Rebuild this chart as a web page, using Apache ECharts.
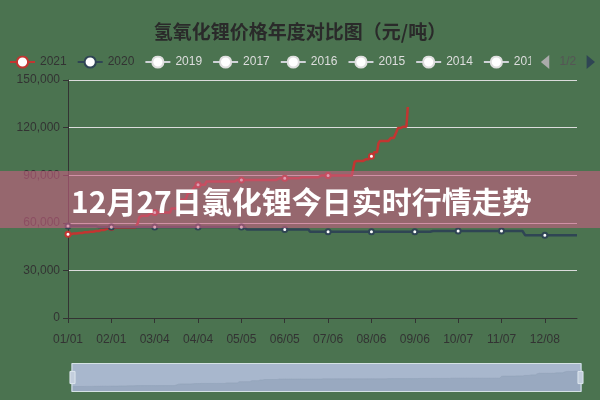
<!DOCTYPE html>
<html>
<head>
<meta charset="utf-8">
<script src="https://cdn.jsdelivr.net/npm/echarts@6/dist/echarts.min.js"></script>
<style>
html,body{margin:0;padding:0;background:#4b7350;}
#chart{width:600px;height:400px;}
</style>
</head>
<body>
<div id="chart"></div>
<script>
// ---- data ----
const chartTitle = '氢氧化锂价格年度对比图（元/吨）';
const bannerText = '12月27日氯化锂今日实时行情走势';
const legendYears = ['2021', '2020', '2019', '2017', '2016', '2015', '2014', '2013', '2012'];
const hiddenYears = ['2019', '2017', '2016', '2015', '2014', '2013', '2012'];
const monthLengths = [31, 28, 31, 30, 31, 30, 31, 31, 30, 31, 30, 31];
const yTicks = [0, 30000, 60000, 90000, 120000, 150000];

// daily prices 2021 (01/01 .. 09/01)
const values2021 = [
// Jan
52800,52800,52800,53200,53200,53200,53200,53600,53600,53600,
53600,54000,54000,54000,54000,54400,54400,54400,54400,54800,
54800,54800,54800,55500,55500,55500,55500,56200,56200,56200,
56200,
// Feb
57000,57000,57000,57000,57000,57000,57000,57000,57000,57000,
57000,57000,57000,57000,57000,57000,57000,57000,57000,60000,
63500,64500,64500,64500,64500,64500,64500,65500,
// Mar
66000,66000,66000,66500,66500,66500,66500,66500,66500,66500,
66500,66500,66500,66500,66500,69000,69000,69000,69000,69000,
69000,74500,74500,74500,74500,74500,74500,79000,79000,79000,
79000,
// Apr
82000,82000,84000,84000,84000,84000,84000,84000,84000,86000,
86000,86000,86000,86000,86000,86000,86000,86000,86000,86000,
86000,86000,86000,86000,86000,86000,86000,86000,86000,86000,
// May
87000,87000,87000,87000,87000,87000,87000,87000,87000,87000,
87000,87000,87000,87000,87000,87000,87000,87000,87000,87000,
87000,87000,87000,87000,87000,87000,87000,87000,87000,87000,
87000,
// Jun
88000,88000,88000,88000,88000,88000,88000,88000,88000,88000,
88000,88000,88000,88000,88000,88700,88700,88700,88700,88700,
88700,88700,88700,88700,88700,88700,88700,88700,88700,88700,
// Jul
89800,89800,89800,89800,89800,89800,89800,89800,89800,89800,
89800,89800,89800,89800,89800,89800,89800,89800,89800,89800,
89800,89800,89800,89800,98500,99000,99000,99000,99000,99000,
99000,
// Aug
100000,100000,100000,100000,102000,102000,102000,104500,104500,104500,
110000,111500,111500,111500,111500,111500,111500,111500,111500,113500,
113500,113500,113500,117500,119800,119800,119800,119800,120600,120600,
120600,
// Sep
133000
];

// daily prices 2020 (01/01 .. 12/31)
const values2020 = [
// Jan
58000,58000,58000,58000,58000,58000,58000,58000,58000,58000,
58000,58000,58000,58000,58000,58000,58000,58000,58000,58000,
58000,57300,57300,57300,57300,57300,57300,57300,57300,57300,
57300,
// Feb
57300,57300,57300,57300,57300,57300,57300,57300,57300,57300,
57300,57300,57300,57300,57300,57300,57300,57300,57300,57300,
57300,57300,57300,57300,57300,57300,57300,57300,
// Mar
57300,57300,57300,57300,57300,57300,57300,57300,57300,57300,
57300,57300,57300,57300,57300,57300,57300,57300,57300,57300,
57300,57300,57300,57300,57300,57300,57300,57300,57300,57300,
57300,
// Apr
57300,57300,57300,57300,57300,57300,57300,57300,57300,57300,
57300,57300,57300,57300,57300,57300,57300,57300,57300,57300,
57300,57300,57300,57300,57300,57300,57300,57300,57300,57300,
// May
57300,57300,57300,57300,57300,57300,57300,57300,55800,55800,
55800,55800,55800,55800,55800,55800,55800,55800,55800,55800,
55800,55800,55800,55800,55800,55800,55800,55800,55800,55800,
55800,
// Jun
55800,55800,55800,55800,55800,55800,55800,55800,55800,55800,
55800,55800,55800,55800,55800,55800,55800,55800,55800,55800,
55800,55800,54400,54400,54400,54400,54400,54400,54400,54400,
// Jul
54400,54400,54400,54400,54400,54400,54400,54400,54400,54400,
54400,54400,54400,54400,54400,54400,54400,54400,54400,54400,
54400,54400,54400,54400,54400,54400,54400,54400,54400,54400,
54400,
// Aug
54400,54400,54400,54400,54400,54400,54400,54400,54400,54400,
54400,54400,54400,54400,54400,54400,54400,54400,54400,54400,
54400,54400,54400,54400,54400,54400,54400,54400,54400,54400,
54400,
// Sep
54400,54400,54400,54400,54400,54400,54400,54400,54400,54400,
54400,54400,54400,54400,54400,54400,54400,54400,54800,54800,
54800,54800,54800,54800,54800,54800,54800,54800,54800,54800,
// Oct
54800,54800,54800,54800,54800,54800,54800,54800,54800,54800,
54800,54800,54800,54800,54800,54800,54800,54800,54800,54800,
54800,54800,54800,54800,54800,54800,54800,54800,54800,54800,
54800,
// Nov
54800,54800,54800,54800,54800,54800,54800,54800,54800,54800,
54800,54800,54800,54800,54800,54800,54800,54800,54800,54800,
54800,54800,54800,52100,52100,52100,52100,52100,52100,52100,
// Dec
52100,52100,52100,52100,52100,52100,52100,52100,52100,52100,
52100,52100,52100,52100,52100,52100,52100,52100,52100,52100,
52100,52100,52100,52100,52100,52100,52100,52100,52100,52100,
52100
];

// ---- category labels MM/DD ----
const pad = n => (n < 10 ? '0' : '') + n;
const categories = [];
monthLengths.forEach((len, m) => {
  for (let d = 1; d <= len; d++) categories.push(pad(m + 1) + '/' + pad(d));
});

const palette = ['#c23531', '#2f4554', '#61a0a8', '#d48265', '#91c7ae', '#749f83', '#ca8622', '#bda29a', '#6e7074'];
const seriesValues = { '2021': values2021, '2020': values2020 };

const selected = {};
hiddenYears.forEach(y => { selected[y] = false; });

const FONT = "'Liberation Sans','Noto Sans CJK SC',sans-serif";

const chart = echarts.init(document.getElementById('chart'), null, { renderer: 'canvas' });
chart.setOption({
  animation: false,
  backgroundColor: '#4b7350',
  color: palette,
  textStyle: { fontFamily: FONT },
  title: {
    text: chartTitle,
    left: 'center',
    top: 17,
    textStyle: { fontSize: 19, fontWeight: 'bold', color: '#2a2a2a', fontFamily: "'Noto Sans CJK SC',sans-serif" }
  },
  legend: {
    type: 'scroll',
    data: legendYears,
    selected: selected,
    left: 4,
    right: 5,
    top: 50,
    itemWidth: 25,
    itemHeight: 14,
    itemGap: 10,
    inactiveColor: '#dedede',
    inactiveBorderColor: '#dedede',
    textStyle: { color: '#333', fontSize: 12, fontFamily: FONT },
    pageIconColor: '#2f4554',
    pageIconInactiveColor: '#aaa',
    pageTextStyle: { color: '#555', fontSize: 12 },
    pageIconSize: 14
  },
  grid: { left: 68, right: 23, top: 80, bottom: 82, containLabel: false },
  xAxis: {
    type: 'category',
    boundaryGap: false,
    data: categories,
    axisLine: { lineStyle: { color: '#333', width: 1 } },
    axisTick: { show: true, length: 5, lineStyle: { color: '#333' } },
    axisLabel: { interval: 30, margin: 16, color: '#333', fontSize: 12, fontFamily: FONT },
    splitLine: { show: false }
  },
  yAxis: {
    type: 'value',
    min: yTicks[0],
    max: yTicks[yTicks.length - 1],
    interval: yTicks[1] - yTicks[0],
    axisLine: { show: true, lineStyle: { color: '#333', width: 1 } },
    axisTick: { show: true, length: 5, lineStyle: { color: '#333' } },
    axisLabel: { margin: 8, color: '#333', fontSize: 12, fontFamily: FONT },
    splitLine: { show: true, lineStyle: { color: '#dcdcdc', width: 1 } }
  },
  dataZoom: [{
    type: 'slider',
    xAxisIndex: 0,
    start: 0,
    end: 100,
    left: 69,
    right: 21,
    bottom: 8,
    height: 29,
    backgroundColor: '#a9b7cd',
    borderColor: '#d5e3e5',
    fillerColor: 'rgba(167,183,204,0.1)',
    moveHandleSize: 0,
    brushSelect: false,
    showDetail: false,
    handleIcon: 'path://M0,0H5V12H0Z',
    handleSize: '42%',
    handleStyle: { color: '#c3cedd', borderColor: '#dde6ee', borderWidth: 1 },
    dataBackground: {
      lineStyle: { color: '#8c9db5', width: 0.5, opacity: 1 },
      areaStyle: { color: '#98a8bf', opacity: 1 }
    },
    selectedDataBackground: {
      lineStyle: { color: '#8c9db5', width: 0.5, opacity: 1 },
      areaStyle: { color: '#98a8bf', opacity: 1 }
    }
  }],
  series: legendYears.map((y, i) => ({
    name: y,
    type: 'line',
    data: seriesValues[y] || [],
    symbol: 'emptyCircle',
    symbolSize: 5,
    showSymbol: true,
    itemStyle: { color: palette[i] },
    lineStyle: { width: 2.5, color: palette[i] }
  })),
  graphic: [
    {
      type: 'rect',
      z: 100,
      shape: { x: 0, y: 171, width: 600, height: 57 },
      style: { fill: 'rgba(200,95,130,0.6)' }
    },
    {
      type: 'text',
      z: 101,
      x: 71,
      y: 202,
      style: {
        text: bannerText,
        fill: '#ffffff',
        font: "bold 30px 'Noto Sans CJK SC', sans-serif",
        verticalAlign: 'middle',
        align: 'left'
      }
    }
  ]
});
</script>
</body>
</html>
